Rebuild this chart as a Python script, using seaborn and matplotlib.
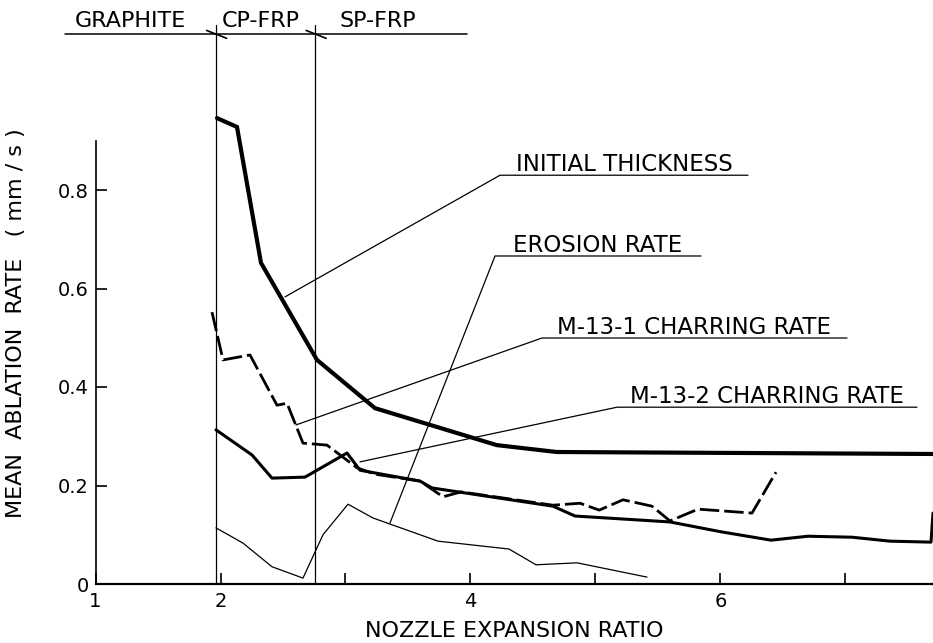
import matplotlib
matplotlib.use("Agg")
import matplotlib.pyplot as plt
import seaborn as sns
import pandas as pd

sns.set_style("white")
plt.rcParams["font.family"] = ["DejaVu Sans"]
plt.rcParams["text.color"] = "black"
plt.rcParams["axes.labelcolor"] = "black"

# ---- data ----
thick_x = [1.972, 2.132, 2.324, 2.772, 3.236, 4.21, 4.69, 7.70]
thick_y = [0.946, 0.928, 0.652, 0.455, 0.357, 0.282, 0.268, 0.264]

m131_x = [1.932, 2.02, 2.236, 2.452, 2.532, 2.66, 2.852, 3.092, 3.236, 3.596,
          3.78, 3.924, 4.66, 4.876, 5.03, 5.22, 5.452, 5.596, 5.82, 6.252, 6.444]
m131_y = [0.552, 0.455, 0.465, 0.363, 0.367, 0.286, 0.282, 0.236, 0.223, 0.209,
          0.177, 0.187, 0.160, 0.164, 0.150, 0.171, 0.158, 0.128, 0.152, 0.144, 0.227]

m132_x = [1.964, 2.252, 2.412, 2.676, 3.012, 3.116, 3.596, 3.692, 4.66, 4.836,
          5.596, 6.004, 6.404, 6.70, 7.052, 7.356, 7.684, 7.70]
m132_y = [0.313, 0.262, 0.215, 0.217, 0.266, 0.231, 0.209, 0.195, 0.158, 0.138,
          0.126, 0.106, 0.089, 0.097, 0.095, 0.087, 0.085, 0.144]

eros_x = [1.964, 2.18, 2.412, 2.66, 2.82, 3.02, 3.22, 3.74, 4.308, 4.524, 4.852, 5.412]
eros_y = [0.114, 0.083, 0.035, 0.012, 0.100, 0.162, 0.134, 0.087, 0.071, 0.039, 0.043, 0.014]

labels = ["INITIAL THICKNESS", "EROSION RATE", "M-13-1 CHARRING RATE", "M-13-2 CHARRING RATE"]
regions = ["GRAPHITE", "CP-FRP", "SP-FRP"]
boundaries = [1.964, 2.76]
xticks = [1, 2, 3, 4, 5, 6, 7]
xticklabels = ["1", "2", "", "4", "", "6", ""]
yticks = [0, 0.2, 0.4, 0.6, 0.8]
yticklabels = ["0", "0.2", "0.4", "0.6", "0.8"]

# ---- figure ----
fig = plt.figure(figsize=(9.33, 6.43), dpi=100)
ax = fig.add_axes([95.5 / 933, 59 / 643, 1 - 95.5 / 933, 571.3 / 643])

def draw(xs, ys, **kw):
    df = pd.DataFrame({"x": xs, "y": ys})
    sns.lineplot(data=df, x="x", y="y", sort=False, estimator=None, ax=ax,
                 color="black", **kw)

draw(thick_x, thick_y, lw=3.0, solid_joinstyle="miter")
draw(m131_x, m131_y, lw=2.0, dashes=(7, 1.8))
draw(m132_x, m132_y, lw=2.2)
draw(eros_x, eros_y, lw=0.9)

ax.set_xlim(1, 7.70)
ax.set_ylim(0, 1.16)

# spines
for s in ["top", "right"]:
    ax.spines[s].set_visible(False)
ax.spines["left"].set_bounds(0, 0.90)
ax.spines["left"].set_linewidth(1.2)
ax.spines["left"].set_color("black")
ax.spines["bottom"].set_linewidth(1.6)
ax.spines["bottom"].set_color("black")

ax.set_xticks(xticks)
ax.set_xticklabels(xticklabels)
ax.set_yticks(yticks)
ax.set_yticklabels(yticklabels)
ax.tick_params(axis="both", direction="in", length=8, width=1.2, labelsize=14,
               pad=5, color="black", labelcolor="black")
ax.tick_params(axis="x", bottom=True, pad=6)
ax.tick_params(axis="y", left=True)

ax.set_xlabel("NOZZLE EXPANSION RATIO", fontsize=16, labelpad=7)
ax.set_ylabel("MEAN  ABLATION  RATE   ( mm / s )", fontsize=16)
ax.yaxis.set_label_coords(-0.083, 0.457)

# region boundaries and header
for b in boundaries:
    ax.plot([b, b], [0, 1.135], color="black", lw=0.9, clip_on=False)
ax.plot([0.756, 3.97], [1.117, 1.117], color="black", lw=1.1, clip_on=False)
for b in boundaries:
    ax.plot([b - 0.075, b + 0.085], [1.124, 1.108], color="black", lw=1.2, clip_on=False)
region_x = [1.276, 2.32, 3.26]
for name, rx in zip(regions, region_x):
    ax.text(rx, 1.131, name, ha="center", va="baseline", fontsize=16)

# annotations: (curve point, underline start, underline end)
ann = [
    ((2.516, 0.583), (4.236, 0.830), 6.22),
    ((3.356, 0.124), (4.196, 0.666), 5.844),
    ((2.604, 0.323), (4.572, 0.4995), 7.012),
    ((3.116, 0.248), (5.172, 0.359), 7.572),
]
for lab, (pt, st, en) in zip(labels, ann):
    ax.plot([pt[0], st[0], en], [pt[1], st[1], st[1]], color="black", lw=0.9,
            clip_on=False)
    ax.text((st[0] + en) / 2, st[1] + 0.008, lab, ha="center", va="baseline",
            fontsize=16.5)

fig.savefig("out.png", dpi=100)
